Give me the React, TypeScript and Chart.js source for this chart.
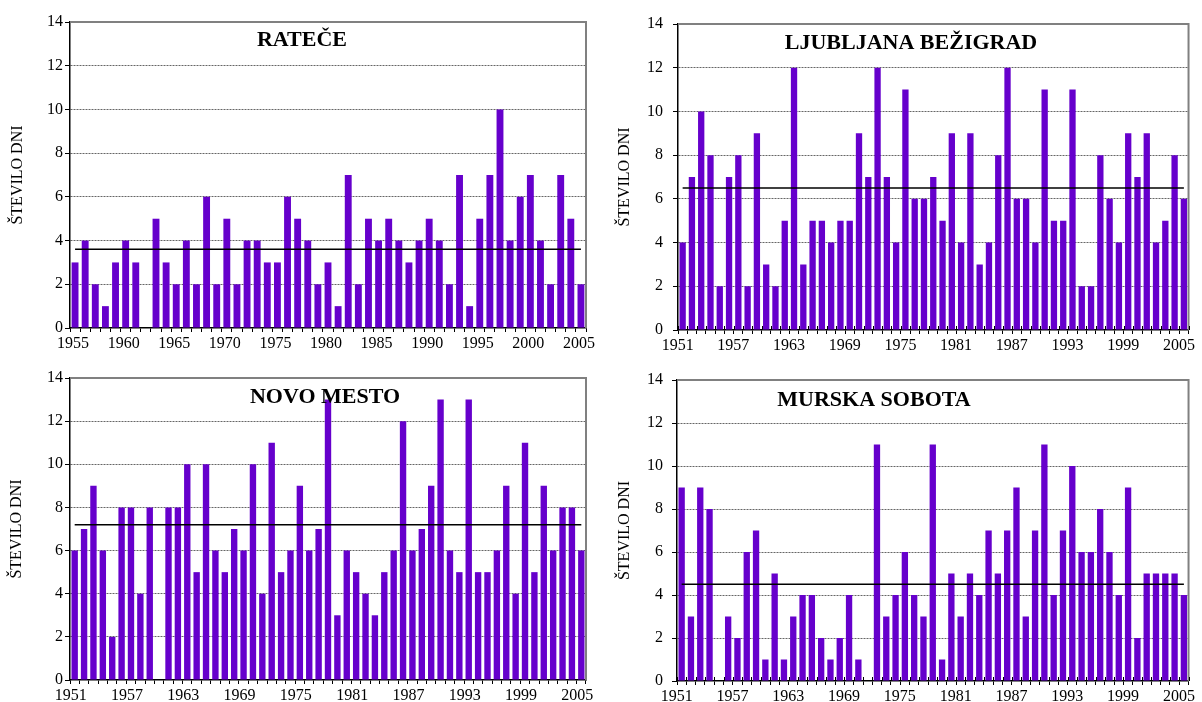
import React, { useEffect, useRef } from 'react';
import { Chart, registerables } from 'chart.js';

Chart.register(...registerables);

const yearsRatece = [
  '1955', '1956', '1957', '1958', '1959', '1960', '1961', '1962', '1963', '1964',
  '1965', '1966', '1967', '1968', '1969', '1970', '1971', '1972', '1973', '1974',
  '1975', '1976', '1977', '1978', '1979', '1980', '1981', '1982', '1983', '1984',
  '1985', '1986', '1987', '1988', '1989', '1990', '1991', '1992', '1993', '1994',
  '1995', '1996', '1997', '1998', '1999', '2000', '2001', '2002', '2003', '2004',
  '2005',
];

const years1951 = [
  '1951', '1952', '1953', '1954', '1955', '1956', '1957', '1958', '1959', '1960',
  '1961', '1962', '1963', '1964', '1965', '1966', '1967', '1968', '1969', '1970',
  '1971', '1972', '1973', '1974', '1975', '1976', '1977', '1978', '1979', '1980',
  '1981', '1982', '1983', '1984', '1985', '1986', '1987', '1988', '1989', '1990',
  '1991', '1992', '1993', '1994', '1995', '1996', '1997', '1998', '1999', '2000',
  '2001', '2002', '2003', '2004', '2005',
];

const rateceTickLabels = ['1955', '1960', '1965', '1970', '1975', '1980', '1985', '1990', '1995', '2000', '2005'];
const sixYearTickLabels = ['1951', '1957', '1963', '1969', '1975', '1981', '1987', '1993', '1999', '2005'];

const rateceValues = [
  3, 4, 2, 1, 3, 4, 3, 0, 5, 3,
  2, 4, 2, 6, 2, 5, 2, 4, 4, 3,
  3, 6, 5, 4, 2, 3, 1, 7, 2, 5,
  4, 5, 4, 3, 4, 5, 4, 2, 7, 1,
  5, 7, 10, 4, 6, 7, 4, 2, 7, 5,
  2,
];

const ljubljanaValues = [
  4, 7, 10, 8, 2, 7, 8, 2, 9, 3,
  2, 5, 12, 3, 5, 5, 4, 5, 5, 9,
  7, 12, 7, 4, 11, 6, 6, 7, 5, 9,
  4, 9, 3, 4, 8, 12, 6, 6, 4, 11,
  5, 5, 11, 2, 2, 8, 6, 4, 9, 7,
  9, 4, 5, 8, 6,
];

const novoMestoValues = [
  6, 7, 9, 6, 2, 8, 8, 4, 8, 0,
  8, 8, 10, 5, 10, 6, 5, 7, 6, 10,
  4, 11, 5, 6, 9, 6, 7, 13, 3, 6,
  5, 4, 3, 5, 6, 12, 6, 7, 9, 13,
  6, 5, 13, 5, 5, 6, 9, 4, 11, 5,
  9, 6, 8, 8, 6,
];

const murskaValues = [
  9, 3, 9, 8, 0, 3, 2, 6, 7, 1,
  5, 1, 3, 4, 4, 2, 1, 2, 4, 1,
  0, 11, 3, 4, 6, 4, 3, 11, 1, 5,
  3, 5, 4, 7, 5, 7, 9, 3, 7, 11,
  4, 7, 10, 6, 6, 8, 6, 4, 9, 2,
  5, 5, 5, 5, 4,
];

const rateceMean = 3.6;
const ljubljanaMean = 6.5;
const novoMestoMean = 7.2;
const murskaMean = 4.5;

const yAxisTitle = 'ŠTEVILO DNI';
const SERIF = "'Liberation Serif', 'Times New Roman', serif";
const BAR_COLOR = '#6600cc';

type PanelProps = {
  left: number;
  top: number;
  width: number;
  height: number;
  plotLeft: number;
  plotTop: number;
  plotRight: number;
  plotBottom: number;
  labels: string[];
  values: number[];
  mean: number;
  tickLabels: string[];
  title: string;
  titleX: number;
  titleY: number;
  yTitlePad: number;
  yTickPad: number;
  labelShift: number;
  crossTicks: boolean;
};

function Panel(p: PanelProps) {
  const ref = useRef<HTMLCanvasElement>(null);

  useEffect(() => {
    const canvas = ref.current;
    if (!canvas) return;

    const overlay = {
      id: 'overlay',
      afterDatasetsDraw(chart: any) {
        const { ctx, chartArea, scales } = chart;
        const x = scales.x;
        const y = scales.y;
        ctx.save();
        // top and right frame
        ctx.strokeStyle = '#808080';
        ctx.lineWidth = 2;
        ctx.beginPath();
        ctx.moveTo(chartArea.left, chartArea.top);
        ctx.lineTo(chartArea.right, chartArea.top);
        ctx.lineTo(chartArea.right, chartArea.bottom);
        ctx.stroke();
        // tick marks crossing the axis upward
        if (p.crossTicks) {
          ctx.strokeStyle = '#000';
          ctx.lineWidth = 1;
          ctx.beginPath();
          for (let i = 0; i <= p.values.length; i++) {
            const px = Math.round(x.getPixelForValue(i - 0.5)) + 0.5;
            ctx.moveTo(px, chartArea.bottom - 4);
            ctx.lineTo(px, chartArea.bottom);
          }
          ctx.stroke();
        }
        // mean line
        const ym = y.getPixelForValue(p.mean);
        ctx.strokeStyle = '#000';
        ctx.lineWidth = 1.5;
        ctx.beginPath();
        ctx.moveTo(x.getPixelForValue(0), ym);
        ctx.lineTo(x.getPixelForValue(p.values.length - 1), ym);
        ctx.stroke();
        // title
        ctx.fillStyle = '#000';
        ctx.font = `bold 22px ${SERIF}`;
        ctx.textAlign = 'center';
        ctx.textBaseline = 'middle';
        ctx.fillText(p.title, p.titleX, p.titleY);
        ctx.restore();
      },
    };

    const chart = new Chart(canvas, {
      type: 'bar',
      data: {
        labels: p.labels,
        datasets: [
          {
            data: p.values,
            backgroundColor: BAR_COLOR,
            borderWidth: 0,
            barPercentage: 0.68,
            categoryPercentage: 1,
          },
        ],
      },
      options: {
        responsive: false,
        animation: false,
        devicePixelRatio: 1,
        layout: {
          padding: {
            top: p.plotTop,
            right: p.width - p.plotRight,
            left: 0,
            bottom: 0,
          },
        },
        plugins: {
          legend: { display: false },
          tooltip: { enabled: false },
          title: { display: false },
        },
        scales: {
          x: {
            type: 'category',
            offset: true,
            afterFit: (scale: any) => {
              scale.height = p.height - p.plotBottom;
            },
            grid: {
              display: true,
              offset: true,
              drawOnChartArea: false,
              drawTicks: true,
              tickLength: 4,
              color: '#000',
              tickColor: '#000',
              lineWidth: 1,
            },
            border: { display: true, color: '#000', width: 1.5 },
            ticks: {
              autoSkip: false,
              maxRotation: 0,
              minRotation: 0,
              padding: 2,
              labelOffset: p.labelShift,
              color: '#000',
              font: { family: SERIF, size: 16 },
              callback: (_v: any, idx: number) =>
                p.tickLabels.includes(p.labels[idx]) ? p.labels[idx] : '',
            },
          },
          y: {
            min: 0,
            max: 14,
            afterFit: (scale: any) => {
              scale.width = p.plotLeft;
            },
            grid: {
              display: true,
              drawOnChartArea: true,
              drawTicks: true,
              tickLength: 5,
              color: (c: any) =>
                c.tick && c.tick.value > 0 && c.tick.value < 14 ? '#666' : 'rgba(0,0,0,0)',
              tickColor: '#000',
              lineWidth: 1,
            },
            border: { display: true, color: '#000', width: 1.5, dash: [2, 1] },
            ticks: {
              stepSize: 2,
              padding: p.yTickPad,
              color: '#000',
              font: { family: SERIF, size: 16 },
            },
            title: {
              display: true,
              text: yAxisTitle,
              color: '#000',
              font: { family: SERIF, size: 16 },
              padding: { top: p.yTitlePad, bottom: 0 },
            },
          },
        },
      },
      plugins: [overlay],
    } as any);

    return () => chart.destroy();
  }, []);

  return (
    <div
      style={{
        position: 'absolute',
        left: p.left,
        top: p.top,
        width: p.width,
        height: p.height,
      }}
    >
      <canvas
        ref={ref}
        width={p.width}
        height={p.height}
        style={{ width: p.width, height: p.height, display: 'block' }}
      />
    </div>
  );
}

export default function App() {
  return (
    <div
      style={{
        position: 'fixed',
        left: 0,
        top: 0,
        width: 1202,
        height: 702,
        background: '#fff',
        overflow: 'hidden',
      }}
    >
      <Panel
        left={0}
        top={0}
        width={600}
        height={350}
        plotLeft={70}
        plotTop={22}
        plotRight={586}
        plotBottom={328}
        labels={yearsRatece}
        values={rateceValues}
        mean={rateceMean}
        tickLabels={rateceTickLabels}
        title="RATEČE"
        titleX={302}
        titleY={40}
        yTitlePad={8}
        yTickPad={2}
        labelShift={-2}
        crossTicks={false}
      />
      <Panel
        left={600}
        top={0}
        width={602}
        height={350}
        plotLeft={78}
        plotTop={24}
        plotRight={590}
        plotBottom={330}
        labels={years1951}
        values={ljubljanaValues}
        mean={ljubljanaMean}
        tickLabels={sixYearTickLabels}
        title="LJUBLJANA BEŽIGRAD"
        titleX={311}
        titleY={43}
        yTitlePad={15}
        yTickPad={10}
        labelShift={-5}
        crossTicks={true}
      />
      <Panel
        left={0}
        top={350}
        width={600}
        height={352}
        plotLeft={70}
        plotTop={28}
        plotRight={586}
        plotBottom={330}
        labels={years1951}
        values={novoMestoValues}
        mean={novoMestoMean}
        tickLabels={sixYearTickLabels}
        title="NOVO MESTO"
        titleX={325}
        titleY={47}
        yTitlePad={7}
        yTickPad={2}
        labelShift={-4}
        crossTicks={false}
      />
      <Panel
        left={600}
        top={350}
        width={602}
        height={352}
        plotLeft={77}
        plotTop={30}
        plotRight={590}
        plotBottom={331}
        labels={years1951}
        values={murskaValues}
        mean={murskaMean}
        tickLabels={sixYearTickLabels}
        title="MURSKA SOBOTA"
        titleX={274}
        titleY={50}
        yTitlePad={15}
        yTickPad={9}
        labelShift={-5}
        crossTicks={true}
      />
    </div>
  );
}
